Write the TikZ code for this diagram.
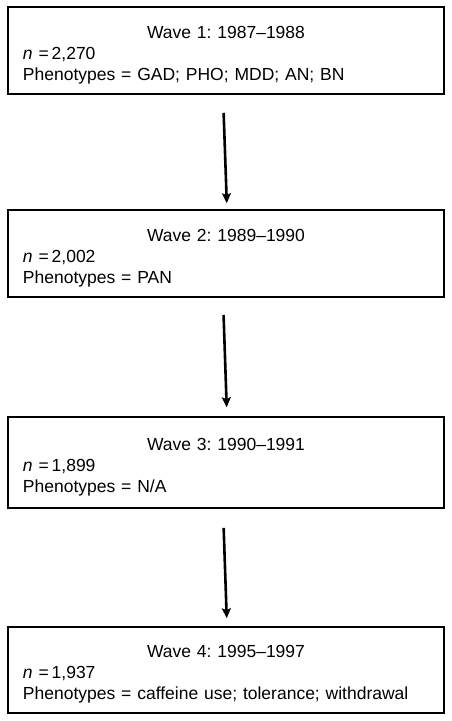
\documentclass[tikz,border=0pt]{standalone}
\usepackage{fontspec}
\setmainfont{Liberation Sans}
\usetikzlibrary{arrows.meta}

\frenchspacing
\newcommand{\wavetext}[3]{{\centering\rule{0pt}{21pt}#1\par}\raggedright\textit{n} =\,#2\\Phenotypes = #3}

\begin{document}
\begin{tikzpicture}[x=1pt, y=-1pt,
  wavebox/.style={rectangle, draw, line width=1.6pt, minimum width=436pt,
    text width=406pt, inner xsep=15pt, inner ysep=0pt,
    font=\fontsize{17.5}{21}\selectfont},
  flow/.style={line width=2.6pt, -{Stealth[length=10pt, width=9pt, inset=2pt]}}]
\useasboundingbox (0,0) rectangle (451,721);
\node[wavebox, minimum height=87pt] (W1) at (226.0,50.5) {\wavetext{Wave 1: 1987--1988}{2,270}{GAD; PHO; MDD; AN; BN}};
\node[wavebox, minimum height=87pt] (W2) at (226.0,253.5) {\wavetext{Wave 2: 1989--1990}{2,002}{PAN}};
\node[wavebox, minimum height=91pt] (W3) at (226.0,462.5) {\wavetext{Wave 3: 1990--1991}{1,899}{N/A}};
\node[wavebox, minimum height=86pt] (W4) at (226.0,670.0) {\wavetext{Wave 4: 1995--1997}{1,937}{caffeine use; tolerance; withdrawal}};
\draw[flow, shorten <=18pt, shorten >=6pt] ([xshift=-3pt]W1.south) -- ([xshift=1pt]W2.north);
\draw[flow, shorten <=17pt, shorten >=9pt] ([xshift=-3pt]W2.south) -- ([xshift=1pt]W3.north);
\draw[flow, shorten <=19pt, shorten >=8pt] ([xshift=-3pt]W3.south) -- ([xshift=1pt]W4.north);
\end{tikzpicture}
\end{document}
